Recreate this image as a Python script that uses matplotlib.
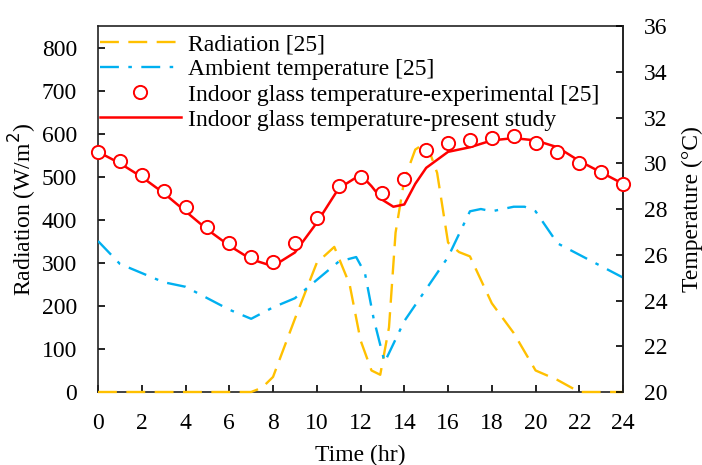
import matplotlib.pyplot as plt

plt.rcParams['font.family'] = ['Liberation Serif', 'DejaVu Serif']

# radiation [25], W/m2
rad_t = [0, 1, 2, 3, 4, 5, 6, 7, 7.5, 8, 9, 10, 10.8, 11.5, 12, 12.5, 12.9, 13.3, 13.6, 14,
         14.5, 15, 15.5, 16, 16.5, 17, 18, 19, 20, 21, 22, 23, 24]
rad = [0, 0, 0, 0, 0, 0, 0, 0, 10, 35, 170, 300, 337, 250, 120, 50, 40, 150, 370, 493,
       563, 580, 509, 347, 325, 315, 206, 137, 50, 28, 0, 0, 0]

# ambient temperature [25], degC
amb_t = [0, 1, 2, 3, 4, 5, 6, 7, 8, 9, 10, 11, 11.8, 12.2, 12.6, 13.1, 13.5, 14, 15, 16,
         17, 17.5, 18, 19, 19.5, 20, 20.5, 21, 22, 23, 24]
amb = [26.6, 25.6, 25.2, 24.8, 24.6, 24.1, 23.6, 23.2, 23.7, 24.1, 24.9, 25.7, 25.9, 25.2,
       23.2, 21.3, 22.1, 23.1, 24.5, 25.9, 27.9, 28.0, 27.9, 28.1, 28.1, 27.9, 27.2, 26.5,
       26.0, 25.5, 25.0]

# indoor glass temperature, experimental [25]
hours = list(range(25))
glass_exp = [30.5, 30.1, 29.5, 28.8, 28.1, 27.2, 26.5, 25.9, 25.7, 26.5, 27.6, 29.0, 29.4,
             28.7, 29.3, 30.6, 30.9, 31.0, 31.1, 31.2, 30.9, 30.5, 30.0, 29.6, 29.1]

# indoor glass temperature, present study
sim_t = [0, 1, 2, 3, 4, 5, 6, 7, 8, 9, 10, 11, 12, 12.5, 13, 13.5, 14, 14.5, 15, 16, 17,
         18, 19, 20, 21, 22, 23, 24]
glass_sim = [30.5, 30.0, 29.4, 28.7, 27.9, 27.1, 26.4, 25.8, 25.5, 26.1, 27.4, 28.9, 29.5,
             29.0, 28.4, 28.1, 28.2, 29.1, 29.8, 30.5, 30.7, 31.0, 31.1, 31.0, 30.7, 30.1,
             29.6, 29.1]

fig = plt.figure(figsize=(7.02, 4.65), dpi=100)
ax1 = fig.add_axes([0.1396, 0.157, 0.748, 0.787])
ax2 = ax1.twinx()

l1, = ax1.plot(rad_t, rad, color='#FFC000', lw=1.7, dashes=(8, 4),
               label='Radiation [25]', clip_on=False, zorder=3)
l2, = ax2.plot(amb_t, amb, color='#00B0F0', lw=1.7, dashes=(8, 4, 1.5, 4),
               label='Ambient temperature [25]')
l3, = ax2.plot(hours, glass_exp, 'o', color='#FF0000', mfc='white', ms=9.5, mew=1.4,
               label='Indoor glass temperature-experimental [25]', zorder=4, clip_on=False)
l4, = ax2.plot(sim_t, glass_sim, color='#FF0000', lw=1.8,
               label='Indoor glass temperature-present study', zorder=3)

ax1.set_xlim(0, 24)
ax1.set_ylim(0, 850)
ax2.set_ylim(20, 36)
ax1.set_xticks(range(0, 25, 2))
ax1.set_yticks(range(0, 801, 100))
ax2.set_yticks(range(20, 37, 2))

for ax in (ax1, ax2):
    ax.tick_params(direction='in', labelsize=17, length=5, width=1.2, pad=15)
    for s in ax.spines.values():
        s.set_linewidth(1.2)
        s.set_color('#222222')
for side in ('bottom', 'left', 'top'):
    ax2.spines[side].set_visible(False)

ax1.set_xlabel('Time (hr)', fontsize=17, labelpad=8)
ax1.set_ylabel('Radiation (W/m$^2$)', fontsize=17, labelpad=2)
ax2.set_ylabel('Temperature (°C)', fontsize=17, labelpad=10)

ax2.legend(handles=[l1, l2, l3, l4], loc='upper left', bbox_to_anchor=(0.0, 0.985),
           frameon=False, fontsize=17, handlelength=3.4, handletextpad=0.3,
           labelspacing=0.15, borderaxespad=0.0, borderpad=0.1)

fig.savefig('out.png', dpi=100)
